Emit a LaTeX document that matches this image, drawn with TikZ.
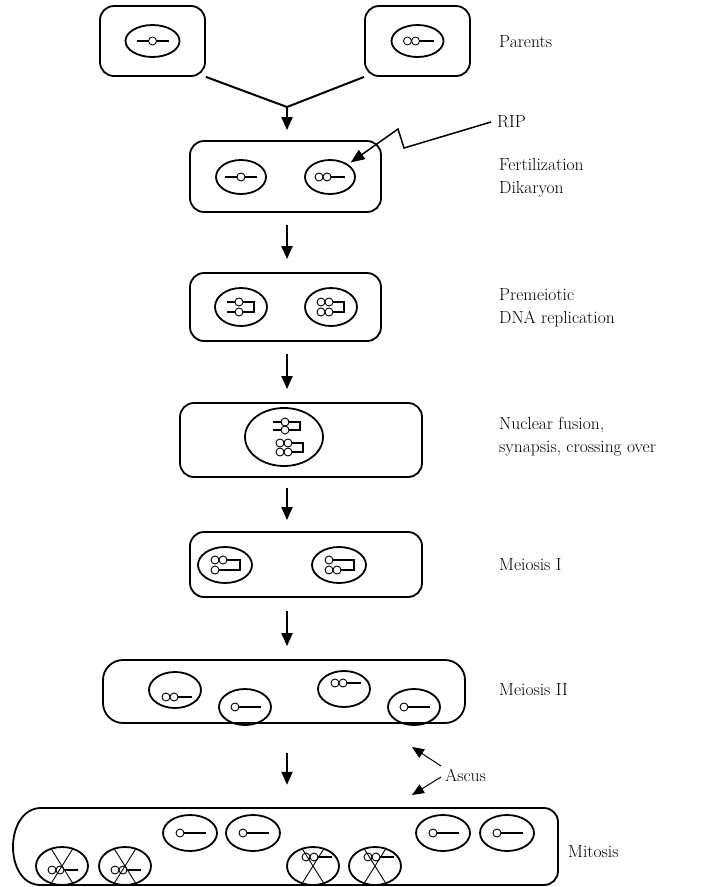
\documentclass[tikz,border=0pt]{standalone}
\usetikzlibrary{arrows.meta,shapes.geometric}

\tikzset{
  cell/.style={draw, line width=1.8pt, rounded corners=14pt, inner sep=0pt},
  nucleus/.style={draw, ellipse, line width=1.8pt, inner sep=0pt, minimum width=52pt, minimum height=34pt},
  chrom/.style={line width=2pt, line join=miter},
  bead/.style={draw, fill=white, line width=0.9pt},
  flow/.style={line width=2pt, -{Triangle[length=13pt,width=11pt]}},
  pointer/.style={line width=1pt, -{Triangle[length=12pt,width=10pt]}},
  lab/.style={anchor=west, inner sep=0pt, align=left, font=\fontsize{17.5}{23}\selectfont},
  % -o-
  pics/single/.style={code={
    \draw[chrom] (-16,0) -- (16,0);
    \draw[bead] (0,0) circle (4);
  }},
  % oo-
  pics/twin/.style={code={
    \draw[chrom] (-11,0) -- (15,0);
    \draw[bead] (-11,0) circle (4);
    \draw[bead] (-3,0) circle (4);
  }},
  % o-
  pics/tail/.style={code={
    \draw[chrom] (-10,0) -- (16,0);
    \draw[bead] (-10,0) circle (4);
  }},
  % =o]  (#1 = half the row gap)
  pics/dyad/.style={code={
    \draw[chrom] (-14,-#1) -- (13,-#1) -- (13,#1) -- (-14,#1);
    \foreach \y in {-#1,#1} \draw[bead] (-2,\y) circle (4);
  }},
  % 88]
  pics/dyadtwin/.style={code={
    \draw[chrom] (-10,-#1) -- (13,-#1) -- (13,#1) -- (-10,#1);
    \foreach \y in {-#1,#1} {
      \draw[bead] (-10,\y) circle (4);
      \draw[bead] (-2,\y) circle (4);
    }
  }},
  % after crossing over
  pics/crossA/.style={code={
    \draw[chrom] (-10,-5) -- (15,-5) -- (15,5) -- (-10,5);
    \draw[bead] (-10,-5) circle (4);
    \draw[bead] (-10,5) circle (4);
    \draw[bead] (-2,5) circle (4);
  }},
  pics/crossB/.style={code={
    \draw[chrom] (-10,-5) -- (15,-5) -- (15,5) -- (-10,5);
    \draw[bead] (-10,-5) circle (4);
    \draw[bead] (-2,-5) circle (4);
    \draw[bead] (-10,5) circle (4);
  }},
}

\begin{document}
\begin{tikzpicture}[x=1pt,y=1pt,yscale=-1]
\useasboundingbox (0,0) rectangle (704,887);

% Parents
\node[cell, minimum width=105pt, minimum height=70pt] (parL) at (152.5,41) {};
\node[cell, minimum width=105pt, minimum height=70pt] (parR) at (417.5,41) {};
\node[nucleus, minimum width=54pt, minimum height=32pt] (nL) at (parL) {};
\node[nucleus, minimum width=52pt, minimum height=32pt] (nR) at (parR) {};
\pic at (nL) {single};
\pic at ([xshift=1pt]nR.center) {twin};
\coordinate (join) at (287,107);
\draw[line width=2pt] (parL.south east) -- (join) -- (parR.south west);
\node[lab] (tparents) at (499,42) {Parents};

% Fertilization
\node[cell, minimum width=191pt, minimum height=71pt] (fert) at (285.5,176.5) {};
\node[nucleus, minimum width=50pt] (fa) at (241,177) {};
\node[nucleus, minimum width=50pt] (fb) at (330,177) {};
\pic at (fa) {single};
\pic at (fb) {twin};
\draw[flow, shorten >=10pt] (join) -- (join |- fert.north);
\node[lab] (tfert) at (499,177.5) {Fertilization\\Dikaryon};

% RIP
\node[lab] (rip) at (497,122) {RIP};
\draw[line width=1.5pt, -{Triangle[length=14pt,width=11pt]}, shorten >=3pt]
  ([xshift=-6pt]rip.west) -- (404,148) -- (398,129) -- (fb.35);

% Premeiotic DNA replication
\node[cell, minimum width=191pt, minimum height=68pt] (pre) at (285.5,307) {};
\node[nucleus, minimum height=38pt] (pa) at (241,307) {};
\node[nucleus, minimum height=38pt] (pb) at (331,307) {};
\pic at (pa) {dyad=5};
\pic at (pb) {dyadtwin=5};
\draw[flow, shorten <=12pt, shorten >=13pt] (fert.south -| join) -- (pre.north -| join);
\node[lab] (tpre) at (499,308) {Premeiotic\\DNA replication};

% Nuclear fusion
\node[cell, minimum width=242pt, minimum height=74pt] (fus) at (301,440) {};
\node[nucleus, minimum width=78pt, minimum height=58pt] (nf) at (284,437) {};
\pic at (287,426) {dyad=4};
\pic at (290,447.5) {dyadtwin=4.5};
\draw[flow, shorten <=12pt, shorten >=13pt] (pre.south -| join) -- (fus.north -| join);
\node[lab] (tfus) at (499,437) {Nuclear fusion,\\synapsis, crossing over};

% Meiosis I
\node[cell, minimum width=232pt, minimum height=65pt] (mI) at (306,564.5) {};
\node[nucleus, minimum width=54pt, minimum height=36pt] (ma) at (225,565) {};
\node[nucleus, minimum width=54pt, minimum height=36pt] (mb) at (339,565) {};
\pic at (ma) {crossA};
\pic at (mb) {crossB};
\draw[flow, shorten <=10pt, shorten >=11pt] (fus.south -| join) -- (mI.north -| join);
\node[lab] (tmI) at (499,565) {Meiosis I};

% Meiosis II
\node[cell, rounded corners=20pt, minimum width=362pt, minimum height=63pt] (mII) at (284,691.5) {};
\node[nucleus, minimum height=36pt] (q1) at (175,690) {};
\node[nucleus, minimum height=36pt] (q2) at (245,707) {};
\node[nucleus, minimum height=36pt] (q3) at (344,689) {};
\node[nucleus, minimum height=36pt] (q4) at (414,707) {};
\pic at (177,697) {twin};
\pic at (q2) {tail};
\pic at (346,683) {twin};
\pic at (q4) {tail};
\draw[flow, shorten <=13pt, shorten >=13pt] (mI.south -| join) -- (mII.north -| join);
\node[lab] (tmII) at (499,690) {Meiosis II};

% Mitosis
\draw[line width=1.8pt] (40,808) -- (544,808) arc[start angle=-90, end angle=0, radius=14]
  -- (558,871) arc[start angle=0, end angle=90, radius=14]
  -- (40,885) .. controls (4,884) and (4,810) .. (40,808) -- cycle;
\node[minimum width=550pt, minimum height=77pt, inner sep=0pt] (mit) at (283,846.5) {};
\foreach \name/\px in {c1/62, c2/125, c3/313, c4/375}
  \node[nucleus, minimum height=38pt] (\name) at (\px,866) {};
\foreach \name/\px in {p1/190, p2/253, p3/443, p4/507}
  \node[nucleus, minimum width=54pt, minimum height=36pt] (\name) at (\px,833) {};
\pic at (63,870) {twin};
\pic at (126,870) {twin};
\pic at (317,857) {twin};
\pic at (379,857) {twin};
\foreach \name in {c1,c2,c3,c4}
  \draw[line width=0.9pt] (\name.122) -- (\name.302) (\name.58) -- (\name.238);
\foreach \name in {p1,p2,p3,p4}
  \pic at (\name) {tail};
\draw[flow, shorten <=29pt, shorten >=23pt] (mII.south -| join) -- (mit.north -| join);
\node[lab] (tmit) at (568,852) {Mitosis};

% Ascus
\node[lab] (ascus) at (445,775) {Ascus};
\coordinate (ascUp) at (412,747);
\coordinate (ascDown) at (412,795);
\draw[pointer] ([xshift=-4pt,yshift=-9pt]ascus.west) -- (ascUp);
\draw[pointer] ([xshift=-4pt,yshift=2pt]ascus.west) -- (ascDown);
\end{tikzpicture}
\end{document}
